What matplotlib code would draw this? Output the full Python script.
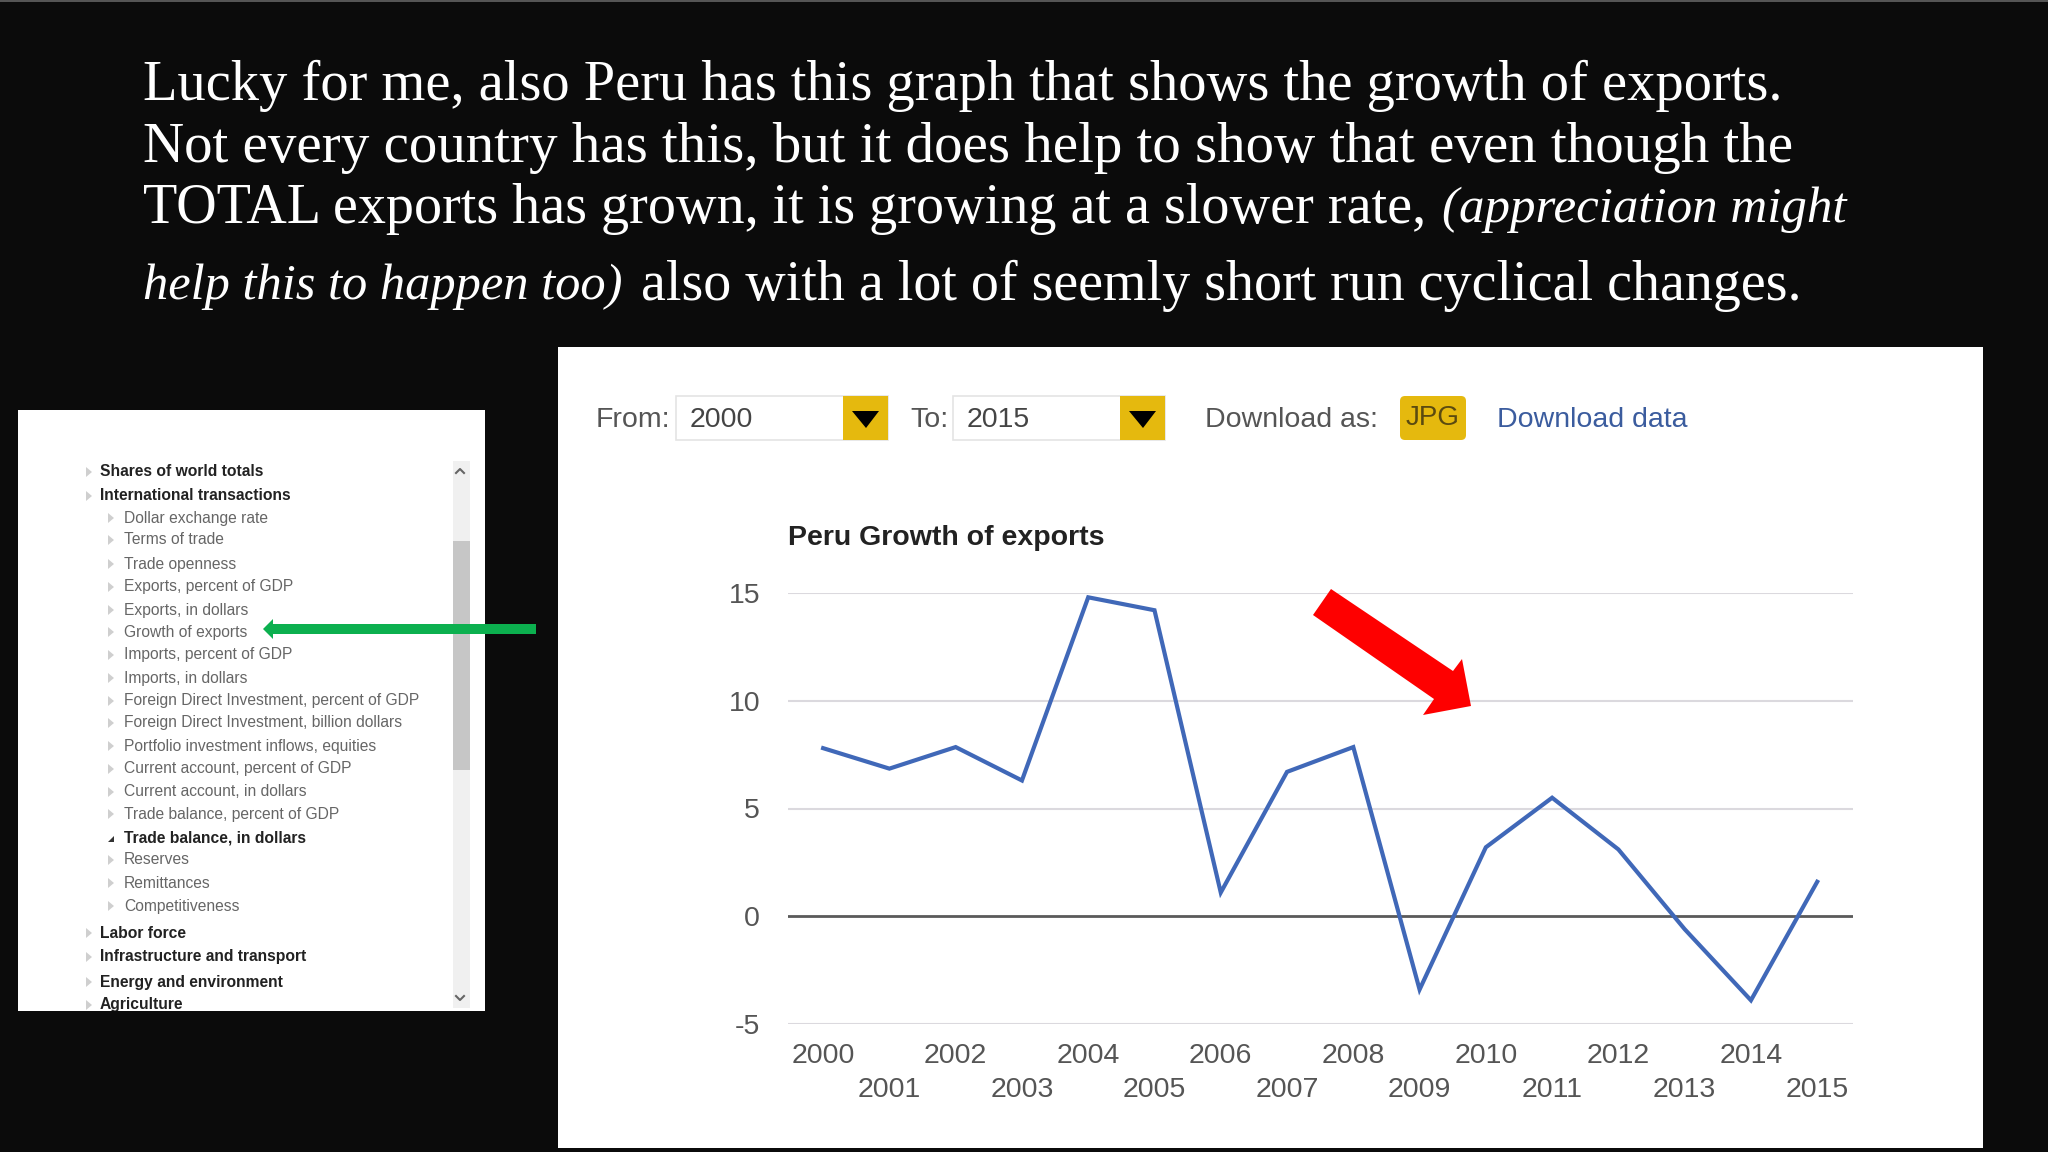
import matplotlib
matplotlib.use("Agg")
import matplotlib.pyplot as plt
from matplotlib.patches import Rectangle, Polygon, FancyBboxPatch

years = list(range(2000, 2016))
growth = [7.8, 6.85, 7.85, 6.3, 14.8, 14.2, 1.1, 6.7, 7.85, -3.4, 3.2, 5.5, 3.1, -0.6, -3.9, 1.6]
y_ticks = [-5, 0, 5, 10, 15]
chart_title = "Peru Growth of exports"

menu_top = ["Shares of world totals", "International transactions"]
menu_sub = ["Dollar exchange rate", "Terms of trade", "Trade openness", "Exports, percent of GDP",
            "Exports, in dollars", "Growth of exports", "Imports, percent of GDP", "Imports, in dollars",
            "Foreign Direct Investment, percent of GDP", "Foreign Direct Investment, billion dollars",
            "Portfolio investment inflows, equities", "Current account, percent of GDP",
            "Current account, in dollars", "Trade balance, percent of GDP", "Trade balance, in dollars",
            "Reserves", "Remittances", "Competitiveness"]
menu_bottom = ["Labor force", "Infrastructure and transport", "Energy and environment", "Agriculture"]

SERIF = "Liberation Serif"
SANS = "Liberation Sans"

fig = plt.figure(figsize=(20.48, 11.52), dpi=100, facecolor="#0b0b0b")
bg = fig.add_axes([0, 0, 1, 1])
bg.set_xlim(0, 2048); bg.set_ylim(1152, 0); bg.axis("off")
bg.add_patch(Rectangle((0, 0), 2048, 2, color="#555555", lw=0))

# Heading
def head(x, y, s, size, style="normal"):
    bg.text(x, y, s, color="white", family=SERIF, fontsize=size, style=style, va="baseline", ha="left")
head(143, 100, "Lucky for me, also Peru has this graph that shows the growth of exports.", 40.7)
head(143, 162, "Not every country has this, but it does help to show that even though the", 41.0)
head(143, 223, "TOTAL exports has grown, it is growing at a slower rate,", 40.4)
head(1442, 222, "(appreciation might", 36.7, "italic")
head(143, 299, "help this to happen too)", 36.4, "italic")
head(641, 300, "also with a lot of seemly short run cyclical changes.", 40.3)

# Main white panel
bg.add_patch(Rectangle((558, 347), 1425, 801, color="white", lw=0))

# Toolbar
UI = dict(family=SANS, fontsize=20.5, va="center", ha="left")
bg.text(596, 420, "From:", color="#555555", **UI)
bg.text(910, 420, "To:", color="#555555", **UI)
bg.text(1205, 420, "Download as:", color="#555555", **UI)
for x0, x1, label in [(676, 888, "2000"), (953, 1165, "2015")]:
    bg.add_patch(Rectangle((x0, 396), x1 - x0, 44, fc="white", ec="#e4e4e4", lw=1.2))
    bg.add_patch(Rectangle((x1 - 45, 396), 45, 44, color="#e5b90e", lw=0))
    bg.add_patch(Polygon([(x1 - 36, 411), (x1 - 9, 411), (x1 - 22, 428)], color="black", lw=0))
    bg.text(x0 + 14, 420, label, color="#444444", **UI)
bg.add_patch(FancyBboxPatch((1403, 399), 60, 38, boxstyle="round,pad=3,rounding_size=5", fc="#e5b90e", ec="none"))
bg.text(1433, 418, "JPG", color="#5a4a10", family=SANS, fontsize=20, va="center", ha="center")
bg.text(1497, 420, "Download data", color="#3b5c9e", **UI)

# Chart
ax = fig.add_axes([788 / 2048, 1 - 1024 / 1152, (1853 - 788) / 2048, (1024 - 593) / 1152])
ax.patch.set_alpha(0)
ax.set_xlim(1999.47, 2015.54)
ax.set_ylim(-5, 15)
for s in ax.spines.values():
    s.set_visible(False)
ax.set_yticks(y_ticks)
ax.set_yticklabels([str(v) for v in y_ticks], family=SANS, fontsize=20.5, color="#555555")
ax.set_xticks(years[0::2])
ax.set_xticklabels([str(v) for v in years[0::2]], family=SANS, fontsize=20.5, color="#555555")
ax.set_xticks(years[1::2], minor=True)
ax.set_xticklabels([str(v) for v in years[1::2]], minor=True, family=SANS, fontsize=20.5, color="#555555")
ax.tick_params(axis="y", length=0, pad=20)
ax.tick_params(axis="x", which="major", length=0, pad=14)
ax.tick_params(axis="x", which="minor", length=0, pad=38)
for v in y_ticks:
    if v != 0:
        ax.axhline(v, color="#dbd9de", lw=1.5, zorder=1)
ax.axhline(0, color="#5a5a5a", lw=2, zorder=2)
ax.plot(years, growth, color="#4068b8", lw=3, solid_joinstyle="miter", zorder=3)
bg.text(788, 538, chart_title, color="#222222", family=SANS, fontsize=20.5, fontweight="bold", va="center", ha="left")

# Red arrow
ov = fig.add_axes([0, 0, 1, 1]); ov.set_xlim(0, 2048); ov.set_ylim(1152, 0); ov.axis("off"); ov.patch.set_alpha(0)
ov.add_patch(Polygon([(1331, 589), (1313, 615), (1434, 699), (1423, 715), (1471, 706), (1462, 659), (1453, 671)],
                     color="#fe0000", lw=0, zorder=5))

# Side panel
ov.add_patch(Rectangle((18, 410), 467, 601, color="white", lw=0, zorder=1))
ov.add_patch(Rectangle((453, 461), 17, 547, color="#f0f0f0", lw=0, zorder=2))
ov.add_patch(Rectangle((453, 541), 17, 229, color="#c6c6c6", lw=0, zorder=2))
ov.plot([456, 460, 464], [473, 469, 473], color="#666666", lw=1.5, zorder=3)
ov.plot([456, 460, 464], [996, 1000, 996], color="#666666", lw=1.5, zorder=3)

def tri(x, y):
    ov.add_patch(Polygon([(x, y - 5), (x, y + 5), (x + 6, y)], fc="#cfcfcf", ec="none", zorder=3))

def menu(x, y, s, bold=False):
    t = ov.text(x, y, s, family=SANS, fontsize=11.25, va="center", ha="left", zorder=4,
                color="#222222" if bold else "#666666", fontweight="bold" if bold else "normal")
    return t

ys_top = [472, 496]
ys_sub = [518, 540, 564, 587, 610, 632, 655, 678, 701, 723, 746, 769, 792, 814, 838, 860, 883, 906]
ys_bot = [933, 957, 982]
for y, s in zip(ys_top, menu_top):
    tri(86, y); menu(100, y, s, True)
for y, s in zip(ys_sub, menu_sub):
    if s == "Trade balance, in dollars":
        ov.add_patch(Polygon([(108, y + 4), (114, y + 4), (114, y - 2)], fc="#333333", ec="none", zorder=3))
    else:
        tri(108, y)
    menu(124, y, s, s == "Trade balance, in dollars")
for y, s in zip(ys_bot, menu_bottom[:3]):
    tri(86, y); menu(100, y, s, True)
tri(86, 1005)
agri = menu(100, 1005, menu_bottom[3], True)
agri.set_clip_path(Rectangle((18, 410), 467, 601, transform=ov.transData))
agri.set_clip_on(True)

# Green arrow
ov.add_patch(Polygon([(536, 624), (273, 624), (273, 619), (263, 629), (273, 639), (273, 634), (536, 634)],
                     color="#0cb04f", lw=0, zorder=6))

fig.savefig("out.png", dpi=100, facecolor=fig.get_facecolor())
